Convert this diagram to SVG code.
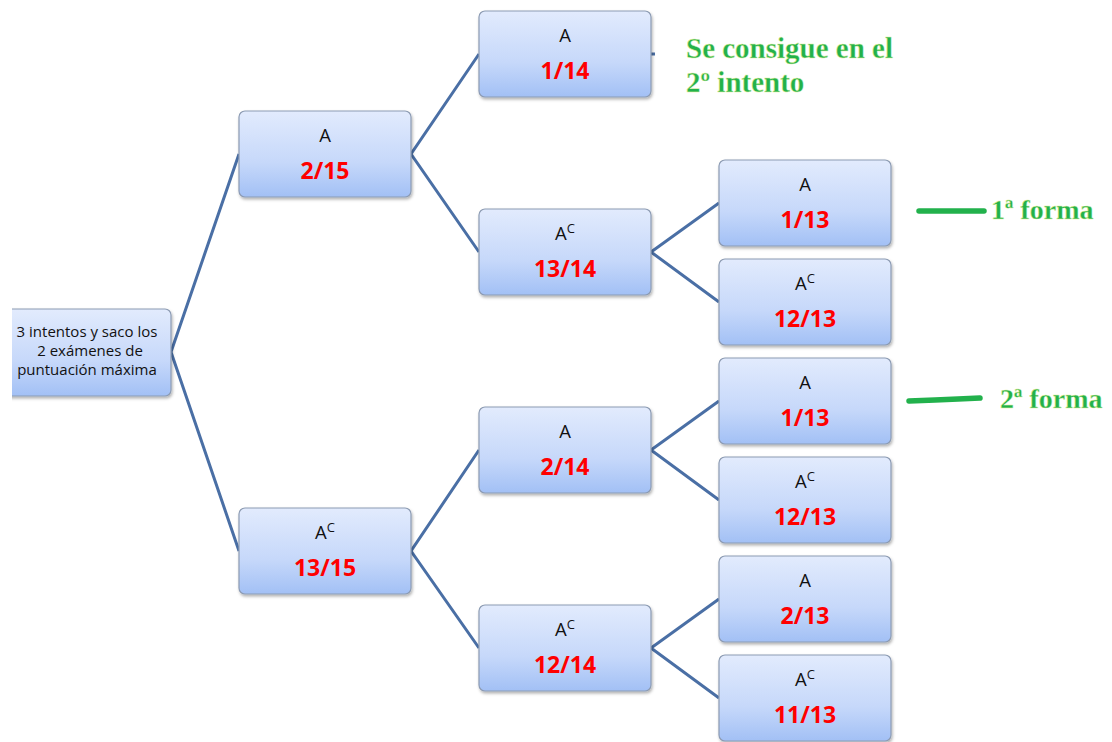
<svg xmlns="http://www.w3.org/2000/svg" width="1112" height="742" viewBox="0 0 1112 742">
<defs>
<linearGradient id="g" x1="0" y1="0" x2="0" y2="1">
<stop offset="0" stop-color="#e2ebfd"/>
<stop offset="0.6" stop-color="#c6d8fa"/>
<stop offset="1" stop-color="#a2c0f5"/>
</linearGradient>
<filter id="sh" x="-10%" y="-10%" width="120%" height="130%">
<feDropShadow dx="1" dy="2" stdDeviation="1.5" flood-color="#000" flood-opacity="0.3"/>
</filter>
<clipPath id="clipL"><rect x="12" y="0" width="1100" height="742"/></clipPath>
</defs>
<style>
.box{fill:url(#g);stroke:#8c9bb3;stroke-width:1.2;filter:url(#sh)}
.lab{font-family:"Open Sans","Liberation Sans",sans-serif;font-size:18.5px;fill:#111;text-anchor:middle}
.sup{font-size:13px}
.fr{font-family:"Open Sans","Liberation Sans",sans-serif;font-size:23px;font-weight:bold;fill:#ff0000;text-anchor:middle}
.root{font-family:"Open Sans","Liberation Sans",sans-serif;font-size:15px;fill:#111;text-anchor:middle}
.conn{stroke:#4a6fa5;stroke-width:3;fill:none}
.note{font-family:"Liberation Serif",serif;font-weight:bold;fill:#22b14c;stroke:#e6f2a0;stroke-width:0.4}
.gl{stroke:#22b14c;stroke-width:5.5;stroke-linecap:round;fill:none}
</style>
<rect width="1112" height="742" fill="#ffffff"/>
<g id="connectors">
<polyline class="conn" points="239,154 171,352 239,551"/>
<polyline class="conn" points="479,54 411,154 479,252"/>
<polyline class="conn" points="479,450 411,551 479,648"/>
<polyline class="conn" points="719,203 651,252 719,302"/>
<polyline class="conn" points="719,401 651,450 719,500"/>
<polyline class="conn" points="719,599 651,648 719,698"/>
<line class="conn" x1="651" y1="54" x2="655" y2="54"/>
</g>
<g id="root" clip-path="url(#clipL)">
<rect class="box" x="-20" y="309" width="191" height="87" rx="6"/>
<text class="root" x="87" y="337">3 intentos y saco los</text>
<text class="root" x="90" y="356">2 exámenes de</text>
<text class="root" x="87" y="375">puntuación máxima</text>
</g>
<g id="n1A">
<rect class="box" x="239" y="111" width="172" height="86" rx="6"/>
<text class="lab" x="325" y="142">A</text>
<text class="fr" x="325" y="179">2/15</text>
</g>
<g id="n1Ac">
<rect class="box" x="239" y="508" width="172" height="86" rx="6"/>
<text class="lab" x="325" y="539">A<tspan class="sup" dy="-7">C</tspan></text>
<text class="fr" x="325" y="576">13/15</text>
</g>
<g id="n2a">
<rect class="box" x="479" y="11" width="172" height="86" rx="6"/>
<text class="lab" x="565" y="42">A</text>
<text class="fr" x="565" y="79">1/14</text>
</g>
<g id="n2b">
<rect class="box" x="479" y="209" width="172" height="86" rx="6"/>
<text class="lab" x="565" y="240">A<tspan class="sup" dy="-7">C</tspan></text>
<text class="fr" x="565" y="277">13/14</text>
</g>
<g id="n2c">
<rect class="box" x="479" y="407" width="172" height="86" rx="6"/>
<text class="lab" x="565" y="438">A</text>
<text class="fr" x="565" y="475">2/14</text>
</g>
<g id="n2d">
<rect class="box" x="479" y="605" width="172" height="86" rx="6"/>
<text class="lab" x="565" y="636">A<tspan class="sup" dy="-7">C</tspan></text>
<text class="fr" x="565" y="673">12/14</text>
</g>
<g id="n3a">
<rect class="box" x="719" y="160" width="172" height="86" rx="6"/>
<text class="lab" x="805" y="191">A</text>
<text class="fr" x="805" y="228">1/13</text>
</g>
<g id="n3b">
<rect class="box" x="719" y="259" width="172" height="86" rx="6"/>
<text class="lab" x="805" y="290">A<tspan class="sup" dy="-7">C</tspan></text>
<text class="fr" x="805" y="327">12/13</text>
</g>
<g id="n3c">
<rect class="box" x="719" y="358" width="172" height="86" rx="6"/>
<text class="lab" x="805" y="389">A</text>
<text class="fr" x="805" y="426">1/13</text>
</g>
<g id="n3d">
<rect class="box" x="719" y="457" width="172" height="86" rx="6"/>
<text class="lab" x="805" y="488">A<tspan class="sup" dy="-7">C</tspan></text>
<text class="fr" x="805" y="525">12/13</text>
</g>
<g id="n3e">
<rect class="box" x="719" y="556" width="172" height="86" rx="6"/>
<text class="lab" x="805" y="587">A</text>
<text class="fr" x="805" y="624">2/13</text>
</g>
<g id="n3f">
<rect class="box" x="719" y="655" width="172" height="86" rx="6"/>
<text class="lab" x="805" y="686">A<tspan class="sup" dy="-7">C</tspan></text>
<text class="fr" x="805" y="723">11/13</text>
</g>
<g id="notes">
<text class="note" x="686" y="58" font-size="29">Se consigue en el</text>
<text class="note" x="686" y="92" font-size="29">2º intento</text>
<line class="gl" x1="919" y1="211" x2="984" y2="211"/>
<text class="note" x="991" y="219" font-size="28">1ª forma</text>
<path class="gl" d="M909,401 L935,400 L958,399 L980,398"/>
<text class="note" x="1000" y="408" font-size="28">2ª forma</text>
</g>
</svg>
